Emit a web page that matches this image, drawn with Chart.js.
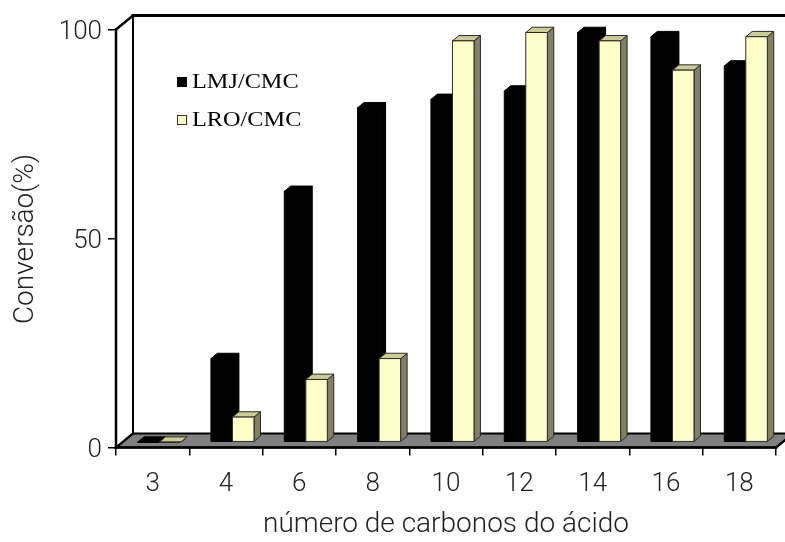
<!DOCTYPE html>
<html>
<head>
<meta charset="utf-8">
<script src="https://cdn.jsdelivr.net/npm/chart.js@4.4.1/dist/chart.umd.min.js"></script>
<style>
  html, body { margin: 0; padding: 0; background: #fff; overflow: hidden; }
  canvas { display: block; }
</style>
</head>
<body>
<canvas id="c" width="785" height="542"></canvas>
<script>
// Conversion (%) per fatty-acid carbon number for the two catalysts
const categories = ['3', '4', '6', '8', '10', '12', '14', '16', '18'];
const seriesNames = ['LMJ/CMC', 'LRO/CMC'];
const lmjValues = [0, 20, 60, 80, 82, 84, 98, 97, 90];
const lroValues = [0, 6, 15, 20, 96, 98, 96, 89, 97];
const yTicks = [0, 50, 100];
const xTitle = 'número de carbonos do ácido';
const yTitle = 'Conversão(%)';

// depth of the 3-D box and the slice of it occupied by the columns
const DEPTH = { dx: 17, dy: -14 };
const COL_FRONT = 0.38;
const COL_BACK = 0.76;

const FACES = [
  { front: '#000000', top: '#000000', side: '#000000', edge: '#000000' },
  { front: '#FFFFCC', top: '#CCCC99', side: '#808066', edge: '#2a2a2a' }
];

const SANS = 'Roboto, "Liberation Sans", Arial, sans-serif';
const SERIF = '"Liberation Serif", "Times New Roman", serif';
const TEXT = '#222';

function poly(ctx, pts, fill, stroke, lw) {
  ctx.beginPath();
  ctx.moveTo(pts[0][0], pts[0][1]);
  for (let i = 1; i < pts.length; i++) ctx.lineTo(pts[i][0], pts[i][1]);
  ctx.closePath();
  if (fill) { ctx.fillStyle = fill; ctx.fill(); }
  if (stroke) { ctx.strokeStyle = stroke; ctx.lineWidth = lw || 1; ctx.lineJoin = 'miter'; ctx.stroke(); }
}

function line(ctx, x0, y0, x1, y1, w, c) {
  ctx.beginPath();
  ctx.moveTo(x0, y0);
  ctx.lineTo(x1, y1);
  ctx.lineWidth = w;
  ctx.strokeStyle = c || '#000';
  ctx.lineCap = 'square';
  ctx.stroke();
}

const box3d = {
  id: 'box3d',
  // back wall and floor of the box
  beforeDraw(chart) {
    const ctx = chart.ctx;
    const { left, right, top, bottom } = chart.chartArea;
    const { dx, dy } = DEPTH;
    ctx.save();
    ctx.fillStyle = '#fff';
    ctx.fillRect(0, 0, chart.width, chart.height);
    poly(ctx, [[left + dx, top + dy], [right + dx, top + dy], [right + dx, bottom + dy], [left + dx, bottom + dy]], '#fff');
    poly(ctx, [[left, bottom], [right, bottom], [right + dx, bottom + dy], [left + dx, bottom + dy]], '#808080', '#000', 2);
    line(ctx, left + dx, top + dy, left + dx, bottom + dy, 2);
    line(ctx, left + dx, top + dy, chart.width + 10, top + dy, 3);
    line(ctx, left, top, left + dx, top + dy, 2.5);
    ctx.restore();
  },
  // columns drawn as boxes from the bar elements the library laid out
  beforeDatasetsDraw(chart) {
    const ctx = chart.ctx;
    const { dx, dy } = DEPTH;
    const fx = COL_FRONT * dx, fy = COL_FRONT * dy;
    const ddx = (COL_BACK - COL_FRONT) * dx, ddy = (COL_BACK - COL_FRONT) * dy;
    const metas = chart.data.datasets.map((_, i) => chart.getDatasetMeta(i));
    ctx.save();
    for (let j = 0; j < categories.length; j++) {
      metas.forEach((meta, d) => {
        const el = meta.data[j];
        const f = FACES[d];
        const x0 = el.x - el.width / 2 + fx;
        const x1 = el.x + el.width / 2 + fx;
        const yt = el.y + fy;
        const yb = el.base + fy;
        poly(ctx, [[x1, yb], [x1 + ddx, yb + ddy], [x1 + ddx, yt + ddy], [x1, yt]], f.side, f.edge, 1);
        poly(ctx, [[x0, yt], [x1, yt], [x1 + ddx, yt + ddy], [x0 + ddx, yt + ddy]], f.top, f.edge, 1);
        poly(ctx, [[x0, yt], [x1, yt], [x1, yb], [x0, yb]], f.front, f.edge, 1);
      });
    }
    ctx.restore();
    return false;
  },
  // front edges, axis titles and legend
  afterDraw(chart) {
    const ctx = chart.ctx;
    const { left, right, top, bottom } = chart.chartArea;
    const { dx, dy } = DEPTH;
    ctx.save();
    line(ctx, left, top, left, bottom, 2.5);
    line(ctx, left, bottom, right, bottom, 2.5);
    line(ctx, left, bottom, left + dx, bottom + dy, 2);
    line(ctx, right, bottom, right + dx, bottom + dy, 2);

    ctx.fillStyle = TEXT;
    ctx.font = '300 28px ' + SANS;
    ctx.textAlign = 'center';
    ctx.textBaseline = 'alphabetic';
    ctx.fillText(xTitle, (left + right) / 2, 532);

    ctx.save();
    ctx.translate(33, 239);
    ctx.rotate(-Math.PI / 2);
    ctx.fillText(yTitle, 0, 0);
    ctx.restore();

    // legend
    const items = [
      { name: seriesNames[0], y: 77, fill: '#000', stroke: '#000' },
      { name: seriesNames[1], y: 115, fill: '#FFFFCC', stroke: '#333' }
    ];
    items.forEach(it => {
      ctx.fillStyle = it.fill;
      ctx.fillRect(177, it.y, 10, 10);
      ctx.strokeStyle = it.stroke;
      ctx.lineWidth = 1;
      ctx.strokeRect(177.5, it.y + 0.5, 9, 9);
      ctx.save();
      ctx.translate(192, it.y + 10.8);
      ctx.scale(1.13, 1);
      ctx.fillStyle = '#000';
      ctx.font = '21.5px ' + SERIF;
      ctx.textAlign = 'left';
      ctx.fillText(it.name, 0, 0);
      ctx.restore();
    });
    ctx.restore();
  }
};

const tickFont = { family: SANS, size: 26, weight: '300' };

new Chart(document.getElementById('c'), {
  type: 'bar',
  data: {
    labels: categories,
    datasets: [
      { label: seriesNames[0], data: lmjValues, backgroundColor: FACES[0].front },
      { label: seriesNames[1], data: lroValues, backgroundColor: FACES[1].front }
    ]
  },
  options: {
    responsive: false,
    animation: false,
    devicePixelRatio: 1,
    layout: { padding: { top: 29.5, right: 9, left: 0, bottom: 0 } },
    datasets: { bar: { categoryPercentage: 0.587, barPercentage: 1 } },
    plugins: { legend: { display: false }, tooltip: { enabled: false } },
    scales: {
      x: {
        grid: { offset: true, drawOnChartArea: false, tickLength: 8, color: '#000', lineWidth: 1.5 },
        border: { display: false },
        ticks: { font: tickFont, color: TEXT, padding: 13, maxRotation: 0, autoSkip: false },
        afterFit(s) { s.height = 94.5; }
      },
      y: {
        min: 0,
        max: 100,
        afterBuildTicks(s) { s.ticks = yTicks.map(v => ({ value: v })); },
        grid: { drawOnChartArea: false, tickLength: 8, color: '#000', lineWidth: 1.5 },
        border: { display: false },
        ticks: { font: tickFont, color: TEXT, padding: 6, labelOffset: 3 },
        afterFit(s) { s.width = 116; }
      }
    }
  },
  plugins: [box3d]
});
</script>
</body>
</html>
